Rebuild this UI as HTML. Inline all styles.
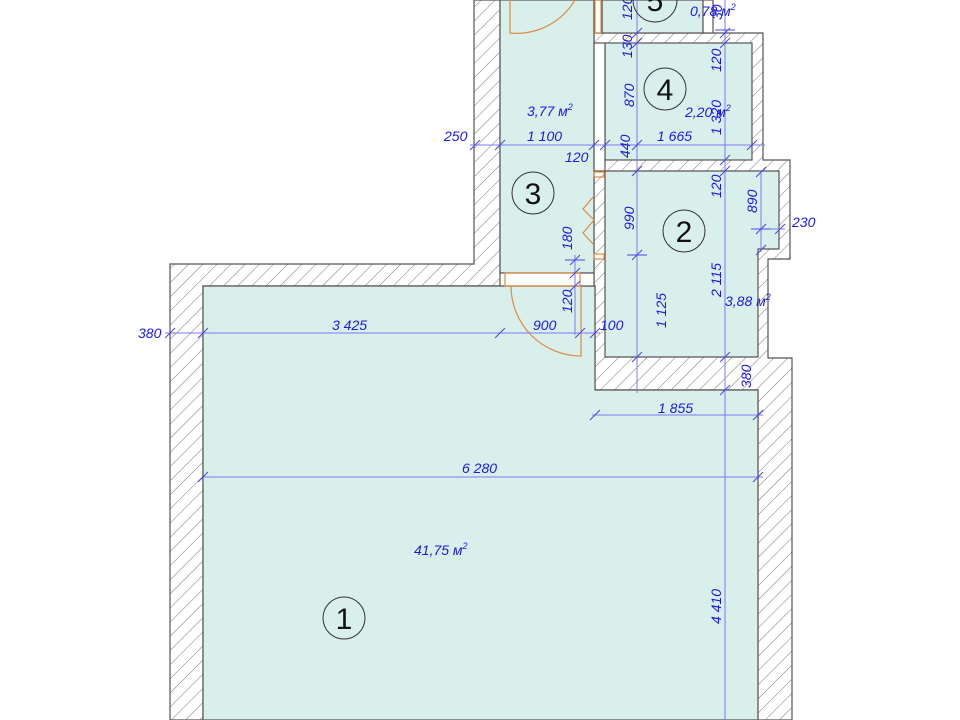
<!DOCTYPE html>
<html><head><meta charset="utf-8"><style>
html,body{margin:0;padding:0;background:#fff;width:960px;height:720px;overflow:hidden}
svg text{font-family:"Liberation Sans",sans-serif;font-style:italic;fill:#1a1ae6;font-size:14px}
</style></head><body>
<svg width="960" height="720" viewBox="0 0 960 720" xmlns="http://www.w3.org/2000/svg">
<defs>
<pattern id="h" patternUnits="userSpaceOnUse" width="10" height="10" patternTransform="rotate(45)">
<rect width="10" height="10" fill="#fff"/><line x1="0" y1="0" x2="0" y2="10" stroke="#777" stroke-width="1"/>
</pattern>
</defs>
<g stroke="#555" stroke-width="1.2" fill="url(#h)">
<!-- room1 walls -->
<path d="M170,720 V264 H474 V0 H500 V273 H594 V286 H500 V286 H203 V720 Z"/>
<path d="M595,286 V390 H758 V720 H792 V358 H768 V259 H790 V160 H763 V33 H595 V0 H594 V286 Z"/>
</g>
<g fill="#d8efec" stroke="#555" stroke-width="1.2">
<path d="M203,286 H595 V390 H758 V720 H203 Z"/>
<rect x="500" y="0" width="94" height="273"/>
<rect x="605" y="171" width="174" height="78" stroke="none"/>
<path d="M605,171 H779 V249 H758 V357 H605 Z"/>
<rect x="605" y="43" width="147" height="117"/>
<rect x="602" y="0" width="101" height="33"/>
<rect x="703" y="0" width="10" height="33" fill="#fff"/>
<rect x="500" y="273" width="94" height="13" fill="#fff"/>
<rect x="594" y="0" width="8" height="33" fill="#fff"/>
<rect x="594" y="43" width="11" height="128" fill="#fff"/>
</g>
<!-- doors -->
<g fill="none" stroke="#e08a40" stroke-width="1.2">
<rect x="505" y="273" width="75" height="13"/>
<path d="M511,286 A70,70 0 0,0 581,356 V286"/>
<path d="M510,0 V33 A68,68 0 0,0 575,0"/>
<rect x="595" y="0" width="6" height="33"/>
<rect x="594" y="172" width="10" height="5"/><rect x="594" y="254" width="10" height="5"/>
<path d="M594,196 L583,209 L594,220 L583,233 L594,245"/>
</g>
<!-- dimension lines -->
<g stroke="#7b7bf5" stroke-width="1" fill="none">
<line x1="165" y1="333" x2="600" y2="333"/>
<line x1="470" y1="145" x2="765" y2="145"/>
<line x1="203" y1="477" x2="763" y2="477"/>
<line x1="592" y1="415" x2="763" y2="415"/>
<line x1="752" y1="229" x2="785" y2="229"/>
<line x1="637" y1="0" x2="637" y2="393"/>
<line x1="725" y1="0" x2="725" y2="720"/>
<line x1="761" y1="172" x2="761" y2="252"/>
<line x1="575" y1="255" x2="575" y2="335"/>
<g stroke="#4848e8">
<path d="M165,338 l10,-10 M198,338 l10,-10 M495,338 l10,-10 M575,338 l10,-10 M590,338 l10,-10
M470,150 l10,-10 M495,150 l10,-10 M589,150 l10,-10 M600,150 l10,-10 M747,150 l10,-10
M198,482 l10,-10 M753,482 l10,-10 M590,420 l10,-10 M753,420 l10,-10
M632,38 l10,-10 M632,48 l10,-10 M632,150 l10,-10 M632,176 l10,-10 M632,260 l10,-10 M632,362 l10,-10
M720,38 l10,-10 M720,48 l10,-10 M720,165 l10,-10 M720,176 l10,-10 M720,362 l10,-10 M720,395 l10,-10
M756,177 l10,-10 M756,234 l10,-10 M756,255 l10,-10 M775,234 l10,-10
M570,265 l10,-10 M570,278 l10,-10 M570,291 l10,-10"/>
<path d="M627,255 H647 M715,30 H735 M751,229 H771 M565,260 H585"/>
</g>
</g>
<!-- labels -->
<text x="138" y="338">380</text>
<text x="332" y="330">3 425</text>
<text x="533" y="330">900</text>
<text x="600" y="330">100</text>
<text x="444" y="141">250</text>
<text x="527" y="141">1 100</text>
<text x="565" y="162">120</text>
<text x="657" y="141">1 665</text>
<text x="462" y="473">6 280</text>
<text x="658" y="413">1 855</text>
<text x="792" y="227">230</text>
<text x="690" y="16">0,78 м<tspan font-size="9" dy="-6">2</tspan></text>
<text x="527" y="116">3,77 м<tspan font-size="9" dy="-6">2</tspan></text>
<text x="685" y="117">2,20 м<tspan font-size="9" dy="-6">2</tspan></text>
<text x="725" y="306">3,88 м<tspan font-size="9" dy="-6">2</tspan></text>
<text x="414" y="555">41,75 м<tspan font-size="9" dy="-6">2</tspan></text>
<g>
<text transform="translate(632,20) rotate(-90)">120</text>
<text transform="translate(632,58) rotate(-90)">130</text>
<text transform="translate(634,107) rotate(-90)">870</text>
<text transform="translate(630,158) rotate(-90)">440</text>
<text transform="translate(634,230) rotate(-90)">990</text>
<text transform="translate(666,328) rotate(-90)">1 125</text>
<text transform="translate(721,72) rotate(-90)">120</text>
<text transform="translate(722,20) rotate(-90)">30</text>
<text transform="translate(721,135) rotate(-90)">1 320</text>
<text transform="translate(721,198) rotate(-90)">120</text>
<text transform="translate(721,297) rotate(-90)">2 115</text>
<text transform="translate(751,388) rotate(-90)">380</text>
<text transform="translate(721,624) rotate(-90)">4 410</text>
<text transform="translate(757,213) rotate(-90)">890</text>
<text transform="translate(572,250) rotate(-90)">180</text>
<text transform="translate(572,313) rotate(-90)">120</text>
</g>
<!-- room numbers -->
<g fill="none" stroke="#333" stroke-width="1">
<circle cx="655" cy="0" r="22"/><circle cx="665" cy="89" r="21"/>
<circle cx="533" cy="193" r="21"/><circle cx="684" cy="231" r="21"/><circle cx="344" cy="618" r="21"/>
</g>
<g style="font-style:normal;fill:#111;font-size:30px" text-anchor="middle">
<text x="655" y="11" style="font-style:normal;fill:#111;font-size:30px">5</text>
<text x="665" y="100" style="font-style:normal;fill:#111;font-size:30px">4</text>
<text x="533" y="204" style="font-style:normal;fill:#111;font-size:30px">3</text>
<text x="684" y="242" style="font-style:normal;fill:#111;font-size:30px">2</text>
<text x="344" y="629" style="font-style:normal;fill:#111;font-size:30px">1</text>
</g>
</svg>
</body></html>
